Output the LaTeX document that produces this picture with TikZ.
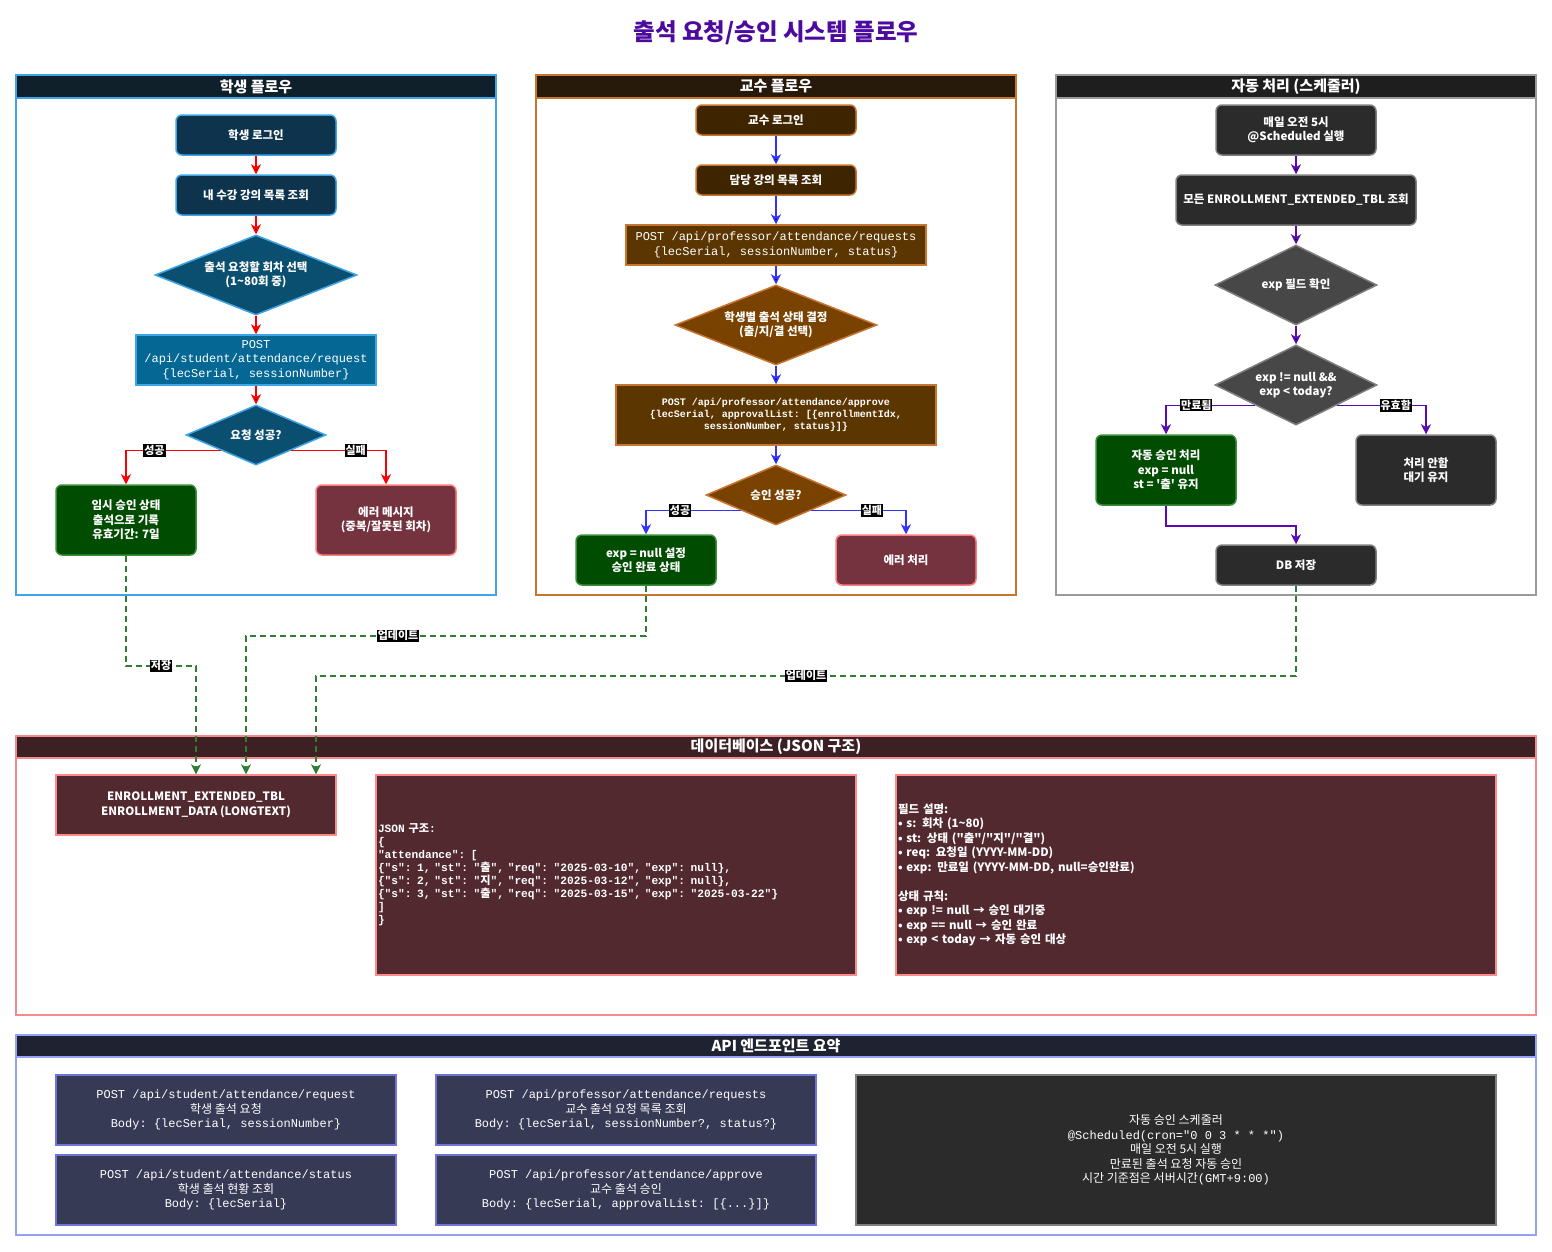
\documentclass[tikz,border=0pt]{standalone}
\usepackage{fontspec}
\setmainfont{Noto Sans CJK KR}
\setmonofont{Liberation Mono}
\newfontfamily\krfont{Noto Sans CJK KR}
\usetikzlibrary{shapes.geometric,arrows.meta,positioning}

\definecolor{ttlc}{HTML}{4C0A9E}
\definecolor{stuline}{HTML}{3DA5E8}
\definecolor{stuhead}{HTML}{10202A}
\definecolor{stufill}{HTML}{0D344C}
\definecolor{studia}{HTML}{0A4F6F}
\definecolor{stuapi}{HTML}{046794}
\definecolor{proline}{HTML}{C87530}
\definecolor{prohead}{HTML}{271A0A}
\definecolor{profill}{HTML}{3F2400}
\definecolor{prodia}{HTML}{7A4200}
\definecolor{proapi}{HTML}{5C3600}
\definecolor{autline}{HTML}{9A9A9A}
\definecolor{autbord}{HTML}{7F7F7F}
\definecolor{authead}{HTML}{1E1E1E}
\definecolor{autfill}{HTML}{2B2B2B}
\definecolor{autdia}{HTML}{474747}
\definecolor{dbline}{HTML}{F28B8B}
\definecolor{dbhead}{HTML}{3C2024}
\definecolor{dbfill}{HTML}{532930}
\definecolor{dbbord}{HTML}{FF8A8A}
\definecolor{apiline}{HTML}{96A0F5}
\definecolor{apihead}{HTML}{1F2230}
\definecolor{apifill}{HTML}{373A55}
\definecolor{apibord}{HTML}{6E74D8}
\definecolor{okfill}{HTML}{004C00}
\definecolor{okline}{HTML}{3A8E3A}
\definecolor{errfill}{HTML}{74333E}
\definecolor{errline}{HTML}{FF7A7A}
\definecolor{redarr}{HTML}{FF0000}
\definecolor{bluearr}{HTML}{3333FF}
\definecolor{purparr}{HTML}{5A0AB4}
\definecolor{greenarr}{HTML}{2E7D32}

\newcommand\nodefont{\fontsize{11.5}{14.5}\selectfont\bfseries}
\newcommand\codefont{\ttfamily\fontsize{12}{14.5}\selectfont}
% korean words inside monospaced text
\newcommand\kr[1]{{\krfont #1}}
\newcommand\dq{\textquotedbl}

\tikzset{
    box/.style={draw, line width=1.5pt, text=white, align=center, inner sep=2pt, font=\nodefont},
    stepbox/.style={box, rounded corners=6pt},
    apibox/.style={box, font=\codefont},
    choice/.style={box, diamond, inner sep=0pt, aspect=2.5},
    okbox/.style={stepbox, fill=okfill, draw=okline, minimum width=140pt},
    errbox/.style={stepbox, fill=errfill, draw=errline, minimum width=140pt},
    sstate/.style={stepbox, fill=stufill, draw=stuline, minimum width=160pt, minimum height=40pt},
    pstate/.style={stepbox, fill=profill, draw=proline, minimum width=160pt, minimum height=30pt},
    astate/.style={stepbox, fill=autfill, draw=autbord},
    panel/.style={draw=#1, line width=1.5pt, inner sep=0pt},
    head/.style={draw=#1, line width=1.5pt, text=white, anchor=north, minimum height=23pt,
        inner sep=0pt, font=\fontsize{15}{18}\selectfont\bfseries},
    el/.style={fill=black, text=white, inner sep=1pt, font=\fontsize{11}{12}\selectfont\bfseries},
    flow/.style={draw=#1, line width=1.5pt, -{Stealth[length=10pt,width=10pt,inset=3pt]}},
    store/.style={draw=greenarr, line width=1.5pt, dash pattern=on 6pt off 4pt,
        -{Stealth[length=10pt,width=10pt,inset=3pt]}}
}

\begin{document}
\begin{tikzpicture}[x=1pt, y=-1pt, node distance=18.5pt]
\useasboundingbox (0,0) rectangle (1552,1251);

\node[font=\fontsize{23.5}{28}\selectfont\bfseries, text=ttlc] (title) at (776,33) {출석 요청/승인 시스템 플로우};

% student flow
\node[panel=stuline, minimum width=480, minimum height=520] (spanel) at (256,335) {};
\node[head=stuline, fill=stuhead, minimum width=480] (shd) at (spanel.north) {학생 플로우};

\node[sstate] (slogin) at (256,135) {학생 로그인};
\node[sstate] (slist) [below = of slogin] {내 수강 강의 목록 조회};
\node[choice, fill=studia, draw=stuline, minimum width=202, minimum height=80] (ssel) [below = of slist]
    {출석 요청할 회차 선택\\(1\textasciitilde80회 중)};
\node[apibox, fill=stuapi, draw=stuline, minimum width=240, minimum height=50] (spost) [below = of ssel]
    {POST\\/api/student/attendance/request\\\{lecSerial, sessionNumber\}};
\node[choice, fill=studia, draw=stuline, minimum width=140, minimum height=60] (sok) [below = of spost] {요청 성공?};
\node[okbox, minimum height=70] (stemp) at (126,520) {임시 승인 상태\\출석으로 기록\\유효기간: 7일};
\node[errbox, minimum height=70] (serr) at (386,520) {에러 메시지\\(중복/잘못된 회차)};

\path[flow=redarr] (slogin) edge (slist)
    (slist) edge (ssel)
    (ssel) edge (spost)
    (spost) edge (sok);
\draw[flow=redarr] (sok.south west) -| node[el, pos=0.35] {성공} (stemp);
\draw[flow=redarr] (sok.south east) -| node[el, pos=0.34] {실패} (serr);

% professor flow
\node[panel=proline, minimum width=480, minimum height=520] (ppanel) at (776,335) {};
\node[head=proline, fill=prohead, minimum width=480] (phd) at (ppanel.north) {교수 플로우};

\node[pstate] (plogin) at (776,120) {교수 로그인};
\node[pstate] (plist) [below = 28.5pt of plogin] {담당 강의 목록 조회};
\node[apibox, fill=proapi, draw=proline, minimum width=300, minimum height=40] (preq) [below = 28.5pt of plist]
    {POST /api/professor/attendance/requests\\\{lecSerial, sessionNumber, status\}};
\node[choice, fill=prodia, draw=proline, minimum width=202, minimum height=80] (pdec) [below = of preq]
    {학생별 출석 상태 결정\\(출/지/결 선택)};
\node[apibox, fill=proapi, draw=proline, minimum width=320, minimum height=60,
    font=\ttfamily\fontsize{10}{12}\selectfont\bfseries] (papp) [below = of pdec]
    {POST /api/professor/attendance/approve\\\{lecSerial, approvalList: [\{enrollmentIdx,\\sessionNumber, status\}]\}};
\node[choice, fill=prodia, draw=proline, minimum width=140, minimum height=60] (pok) [below = of papp] {승인 성공?};
\node[okbox, minimum height=50] (pdone) at (646,560) {exp = null 설정\\승인 완료 상태};
\node[errbox, minimum height=50] (perr) at (906,560) {에러 처리};

\path[flow=bluearr] (plogin) edge (plist)
    (plist) edge (preq)
    (preq) edge (pdec)
    (pdec) edge (papp)
    (papp) edge (pok);
\draw[flow=bluearr] (pok.south west) -| node[el, pos=0.32] {성공} (pdone);
\draw[flow=bluearr] (pok.south east) -| node[el, pos=0.32] {실패} (perr);

% scheduler
\node[panel=autline, minimum width=480, minimum height=520] (apanel) at (1296,335) {};
\node[head=autline, fill=authead, minimum width=480] (ahd) at (apanel.north) {자동 처리 (스케줄러)};

\node[astate, minimum width=160, minimum height=50] (acron) at (1296,130) {매일 오전 5시\\@Scheduled 실행};
\node[astate, minimum width=240, minimum height=50] (aall) [below = of acron] {모든 ENROLLMENT\_EXTENDED\_TBL 조회};
\node[choice, fill=autdia, draw=autbord, minimum width=162, minimum height=80] (acheck) [below = of aall] {exp 필드 확인};
\node[choice, fill=autdia, draw=autbord, minimum width=162, minimum height=80] (aexp) [below = of acheck]
    {exp != null \&\&\\exp < today?};
\node[okbox, minimum height=70] (aauto) at (1166,470) {자동 승인 처리\\exp = null\\st = \textquotesingle 출\textquotesingle{} 유지};
\node[astate, minimum width=140, minimum height=70] (await) at (1426,470) {처리 안함\\대기 유지};
\node[astate, minimum width=160, minimum height=40] (asave) at (1296,565) {DB 저장};

\path[flow=purparr] (acron) edge (aall)
    (aall) edge (acheck)
    (acheck) edge (aexp);
\draw[flow=purparr] (aexp.south west) -| node[el, pos=0.33] {만료됨} (aauto);
\draw[flow=purparr] (aexp.south east) -| node[el, pos=0.33] {유효함} (await);
\draw[flow=purparr] (aauto.south) -- ++(0,20) -| (asave.north);

% database
\node[panel=dbline, minimum width=1520, minimum height=279] (dpanel) at (776,875.5) {};
\node[head=dbline, fill=dbhead, minimum width=1520, minimum height=22] (dhd) at (dpanel.north) {데이터베이스 (JSON 구조)};

\node[box, fill=dbfill, draw=dbbord, minimum width=280, minimum height=60] (dtbl) at (196,805)
    {ENROLLMENT\_EXTENDED\_TBL\\ENROLLMENT\_DATA (LONGTEXT)};
\node[box, fill=dbfill, draw=dbbord, minimum height=200, text width=476pt, align=left,
    font=\ttfamily\fontsize{11.2}{13}\selectfont\bfseries] (djson) at (616,875)
    {JSON \kr{구조}:\\
    \{\\
    "attendance": [\\
    \{"s": 1, "st": "\kr{출}", "req": "2025-03-10", "exp": null\},\\
    \{"s": 2, "st": "\kr{지}", "req": "2025-03-12", "exp": null\},\\
    \{"s": 3, "st": "\kr{출}", "req": "2025-03-15", "exp": "2025-03-22"\}\\
    ]\\
    \}};
\node[box, fill=dbfill, draw=dbbord, minimum height=200, text width=596pt, align=left] (dfield) at (1196,875)
    {필드 설명:\\
    • s: 회차 (1\textasciitilde80)\\
    • st: 상태 (\dq 출\dq/\dq 지\dq/\dq 결\dq)\\
    • req: 요청일 (YYYY-MM-DD)\\
    • exp: 만료일 (YYYY-MM-DD, null=승인완료)\\[14.5pt]
    상태 규칙:\\
    • exp != null → 승인 대기중\\
    • exp == null → 승인 완료\\
    • exp < today → 자동 승인 대상};

% writes into the table
\draw[store] (stemp.south) -- ++(0,110) -| node[el, pos=0.25] {저장} (dtbl.north);
\draw[store] (pdone.south) -- ++(0,50) -| node[el, pos=0.31] {업데이트} ([xshift=50pt]dtbl.north);
\draw[store] (asave.south) -- ++(0,90) -| node[el, pos=0.25] {업데이트} ([xshift=120pt]dtbl.north);

% api summary
\node[panel=apiline, minimum width=1520, minimum height=200] (ipanel) at (776,1135) {};
\node[head=apiline, fill=apihead, minimum width=1520, minimum height=22] (ihd) at (ipanel.north) {API 엔드포인트 요약};

\node[apibox, fill=apifill, draw=apibord, minimum width=340, minimum height=70] (isreq) at (226,1110)
    {POST /api/student/attendance/request\\\kr{학생 출석 요청}\\Body: \{lecSerial, sessionNumber\}};
\node[apibox, fill=apifill, draw=apibord, minimum width=380, minimum height=70] (ipreq) at (626,1110)
    {POST /api/professor/attendance/requests\\\kr{교수 출석 요청 목록 조회}\\Body: \{lecSerial, sessionNumber?, status?\}};
\node[apibox, fill=apifill, draw=apibord, minimum width=340, minimum height=70] (isst) at (226,1190)
    {POST /api/student/attendance/status\\\kr{학생 출석 현황 조회}\\Body: \{lecSerial\}};
\node[apibox, fill=apifill, draw=apibord, minimum width=380, minimum height=70] (ipapp) at (626,1190)
    {POST /api/professor/attendance/approve\\\kr{교수 출석 승인}\\Body: \{lecSerial, approvalList: [\{...\}]\}};
\node[apibox, fill=autfill, draw=autbord, minimum width=640, minimum height=150] (isch) at (1176,1150)
    {\kr{자동 승인 스케줄러}\\@Scheduled(cron="0 0 3 * * *")\\\kr{매일 오전 5시 실행}\\\kr{만료된 출석 요청 자동 승인}\\\kr{시간 기준점은 서버시간}(GMT+9:00)};

\end{tikzpicture}
\end{document}
